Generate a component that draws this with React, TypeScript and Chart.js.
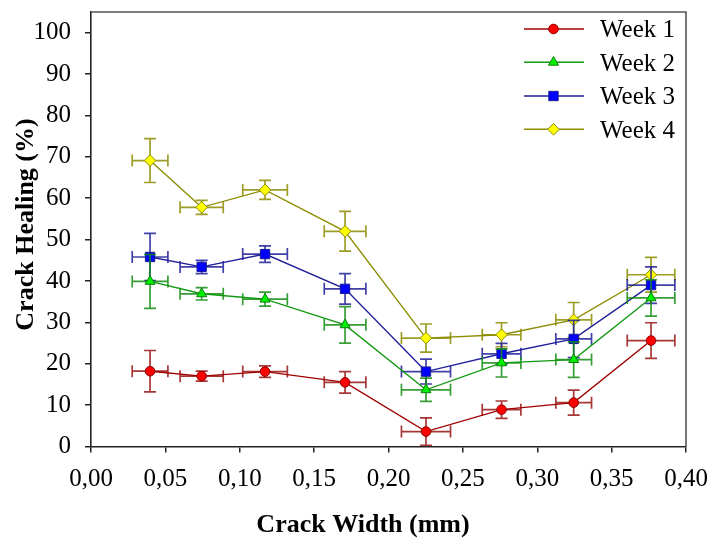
import React, { useEffect, useRef } from 'react';
import { Chart, registerables } from 'chart.js';

Chart.register(...registerables);

// ---- data ----
const crackWidths = [0.0397, 0.0744, 0.117, 0.1708, 0.2252, 0.276, 0.3245, 0.3765];
const crackWidthErr = [0.012, 0.0145, 0.015, 0.014, 0.0165, 0.013, 0.012, 0.016];

const week1 = [18.2, 17.0, 18.1, 15.5, 3.6, 8.9, 10.6, 25.6];
const week1Err = [5.0, 1.2, 1.4, 2.6, 3.3, 2.1, 3.0, 4.3];
const week2 = [39.9, 36.9, 35.6, 29.4, 13.7, 20.2, 21.0, 35.9];
const week2Err = [6.5, 1.5, 1.7, 4.4, 2.8, 3.4, 4.3, 4.4];
const week3 = [45.8, 43.4, 46.5, 38.1, 18.1, 22.4, 26.0, 39.0];
const week3Err = [5.7, 1.6, 2.0, 3.7, 3.0, 2.5, 4.5, 4.4];
const week4 = [69.1, 57.8, 62.0, 52.0, 26.2, 27.0, 30.6, 41.5];
const week4Err = [5.3, 1.7, 2.3, 4.8, 3.4, 2.9, 4.2, 4.2];

const seriesLabels = ['Week 1', 'Week 2', 'Week 3', 'Week 4'];
const seriesValues = [week1, week2, week3, week4];
const seriesErrors = [week1Err, week2Err, week3Err, week4Err];

const xTickValues = [0, 0.05, 0.1, 0.15, 0.2, 0.25, 0.3, 0.35, 0.4];
const yTickValues = [0, 10, 20, 30, 40, 50, 60, 70, 80, 90, 100];

const xTitle = 'Crack Width (mm)';
const yTitle = 'Crack Healing (%)';

// ---- styles ----
const FONT = '"Liberation Serif", "Times New Roman", Times, serif';

const seriesStyles = [
  { line: '#a00000', fill: '#ff0000', border: '#8a0000', err: 'rgba(150,20,20,0.85)', shape: 'circle', r: 4.8 },
  { line: '#139a13', fill: '#00f000', border: '#0a800a', err: 'rgba(20,140,20,0.85)', shape: 'triangle', r: 5.8 },
  { line: '#20209a', fill: '#0000ff', border: '#1a1a90', err: 'rgba(30,30,150,0.85)', shape: 'rect', r: 6.6 },
  { line: '#8c8c00', fill: '#ffff00', border: '#8c8c00', err: 'rgba(140,140,0,0.85)', shape: 'rectRot', r: 5.8 },
];

function drawMarker(ctx: CanvasRenderingContext2D, shape: string, x: number, y: number, r: number) {
  ctx.beginPath();
  if (shape === 'circle') {
    ctx.arc(x, y, r, 0, Math.PI * 2);
  } else if (shape === 'triangle') {
    let rad = 0;
    ctx.moveTo(x + Math.sin(rad) * r, y - Math.cos(rad) * r);
    rad += (2 * Math.PI) / 3;
    ctx.lineTo(x + Math.sin(rad) * r, y - Math.cos(rad) * r);
    rad += (2 * Math.PI) / 3;
    ctx.lineTo(x + Math.sin(rad) * r, y - Math.cos(rad) * r);
    ctx.closePath();
  } else if (shape === 'rect') {
    const s = Math.SQRT1_2 * r;
    ctx.rect(x - s, y - s, 2 * s, 2 * s);
  } else {
    ctx.moveTo(x - r, y);
    ctx.lineTo(x, y - r);
    ctx.lineTo(x + r, y);
    ctx.lineTo(x, y + r);
    ctx.closePath();
  }
  ctx.fill();
  ctx.stroke();
}

const errorBarPlugin = {
  id: 'errorBars',
  beforeDatasetDraw(chart: any, args: any) {
    const i = args.index;
    const ctx = chart.ctx as CanvasRenderingContext2D;
    const xs = chart.scales.x;
    const ys = chart.scales.y;
    const vals = seriesValues[i];
    const errs = seriesErrors[i];
    const st = seriesStyles[i];
    const cap = 6;
    ctx.save();
    ctx.strokeStyle = st.err;
    ctx.lineWidth = 1.7;
    for (let k = 0; k < vals.length; k++) {
      const px = xs.getPixelForValue(crackWidths[k]);
      const py = ys.getPixelForValue(vals[k]);
      const yTop = ys.getPixelForValue(vals[k] + errs[k]);
      const yBot = ys.getPixelForValue(vals[k] - errs[k]);
      const xL = xs.getPixelForValue(crackWidths[k] - crackWidthErr[k]);
      const xR = xs.getPixelForValue(crackWidths[k] + crackWidthErr[k]);
      ctx.beginPath();
      ctx.moveTo(px, yTop);
      ctx.lineTo(px, yBot);
      ctx.moveTo(px - cap, yTop);
      ctx.lineTo(px + cap, yTop);
      ctx.moveTo(px - cap, yBot);
      ctx.lineTo(px + cap, yBot);
      ctx.moveTo(xL, py);
      ctx.lineTo(xR, py);
      ctx.moveTo(xL, py - cap);
      ctx.lineTo(xL, py + cap);
      ctx.moveTo(xR, py - cap);
      ctx.lineTo(xR, py + cap);
      ctx.stroke();
    }
    ctx.restore();
  },
};

const frameAndTextPlugin = {
  id: 'frameAndText',
  afterDraw(chart: any) {
    const ctx = chart.ctx as CanvasRenderingContext2D;
    const a = chart.chartArea;
    ctx.save();
    // top and right frame
    ctx.strokeStyle = '#555';
    ctx.lineWidth = 1.6;
    ctx.beginPath();
    ctx.moveTo(a.left, a.top);
    ctx.lineTo(a.right, a.top);
    ctx.lineTo(a.right, a.bottom);
    ctx.stroke();

    // axis titles
    ctx.fillStyle = '#000';
    ctx.font = 'bold 26px ' + FONT;
    ctx.textAlign = 'center';
    ctx.textBaseline = 'alphabetic';
    ctx.fillText(xTitle, 363, 531.5);
    ctx.save();
    ctx.translate(33.3, 224.5);
    ctx.rotate(-Math.PI / 2);
    ctx.fillText(yTitle, 0, 0);
    ctx.restore();

    // legend
    const rowY = [29, 62.3, 96, 129.3];
    ctx.font = '25px ' + FONT;
    ctx.textAlign = 'left';
    for (let i = 0; i < seriesLabels.length; i++) {
      const st = seriesStyles[i];
      const y = rowY[i];
      ctx.strokeStyle = st.line;
      ctx.lineWidth = 1.5;
      ctx.beginPath();
      ctx.moveTo(524, y);
      ctx.lineTo(584, y);
      ctx.stroke();
      ctx.fillStyle = st.fill;
      ctx.strokeStyle = st.border;
      ctx.lineWidth = 1;
      drawMarker(ctx, st.shape, 553.5, y, st.r);
      ctx.fillStyle = '#000';
      ctx.fillText(seriesLabels[i], 600, y + 8.3);
    }
    ctx.restore();
  },
};

export default function App() {
  const canvasRef = useRef<HTMLCanvasElement | null>(null);

  useEffect(() => {
    document.body.style.margin = '0';
    const canvas = canvasRef.current;
    if (!canvas) return;

    const datasets = seriesLabels.map((label, i) => {
      const st = seriesStyles[i];
      return {
        label,
        data: crackWidths.map((x, k) => ({ x, y: seriesValues[i][k] })),
        showLine: true,
        borderColor: st.line,
        borderWidth: 1.4,
        backgroundColor: st.fill,
        pointStyle: st.shape,
        pointRadius: st.r,
        pointBackgroundColor: st.fill,
        pointBorderColor: st.border,
        pointBorderWidth: 1,
        tension: 0,
        fill: false,
      };
    });

    const chart = new Chart(canvas, {
      type: 'scatter',
      data: { datasets },
      options: {
        animation: false,
        responsive: false,
        devicePixelRatio: 1,
        layout: { padding: { top: 12, right: 24, left: 0, bottom: 0 } },
        plugins: {
          legend: { display: false },
          tooltip: { enabled: false },
          title: { display: false },
        },
        scales: {
          x: {
            type: 'linear',
            min: 0,
            max: 0.4,
            afterBuildTicks: (scale: any) => {
              scale.ticks = xTickValues.map((v) => ({ value: v }));
            },
            afterFit: (scale: any) => {
              scale.height = 91.5;
              scale.paddingLeft = 0;
              scale.paddingRight = 0;
              scale.paddingTop = 0;
              scale.paddingBottom = 0;
            },
            ticks: {
              color: '#000',
              font: { family: FONT, size: 25 },
              padding: 12,
              maxRotation: 0,
              autoSkip: false,
              callback: (v: any) => Number(v).toFixed(2).replace('.', ','),
            },
            grid: {
              drawOnChartArea: false,
              drawTicks: true,
              tickLength: 6,
              color: '#222',
              lineWidth: 1.5,
            },
            border: { display: true, color: '#222', width: 1.6 },
          },
          y: {
            type: 'linear',
            min: 0,
            max: 105,
            afterBuildTicks: (scale: any) => {
              scale.ticks = yTickValues.map((v) => ({ value: v }));
            },
            afterFit: (scale: any) => {
              scale.width = 91;
              scale.paddingLeft = 0;
              scale.paddingRight = 0;
              scale.paddingTop = 0;
              scale.paddingBottom = 0;
            },
            ticks: {
              color: '#000',
              font: { family: FONT, size: 25 },
              padding: 14,
              autoSkip: false,
              callback: (v: any) => String(v),
            },
            grid: {
              drawOnChartArea: false,
              drawTicks: true,
              tickLength: 6,
              color: '#222',
              lineWidth: 1.5,
            },
            border: { display: true, color: '#222', width: 1.6 },
          },
        },
      } as any,
      plugins: [errorBarPlugin, frameAndTextPlugin],
    });

    return () => {
      chart.destroy();
    };
  }, []);

  return (
    <div style={{ position: 'absolute', left: 0, top: 0, width: 710, height: 538 }}>
      <canvas ref={canvasRef} width={710} height={538} style={{ display: 'block', width: 710, height: 538 }} />
    </div>
  );
}
